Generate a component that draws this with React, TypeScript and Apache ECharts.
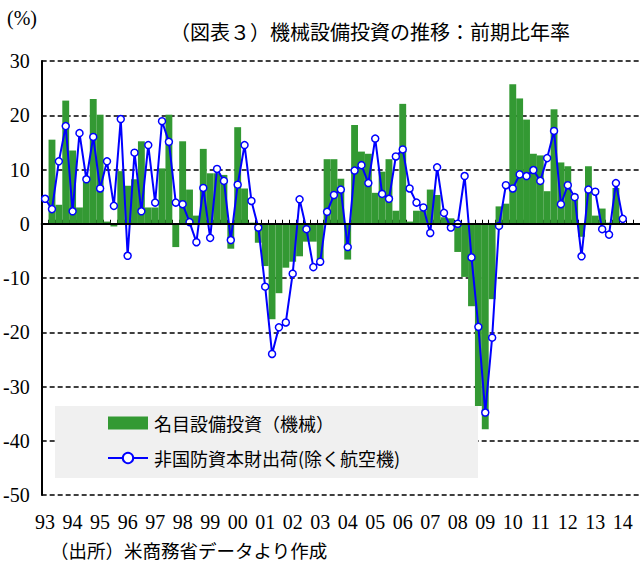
import React, { useEffect, useRef } from "react";
import * as echarts from "echarts";

const years = ["93","94","95","96","97","98","99","00","01","02","03","04","05","06","07","08","09","10","11","12","13","14"];
const quarterCount = 87;
const quarters: string[] = years.flatMap((y) => ["Q1", "Q2", "Q3", "Q4"].map((q) => y + q)).slice(0, quarterCount);

// 名目設備投資（機械） — quarterly, annualized q/q %
const investment: (number | null)[] = [
  null, 15.5, 3.5, 22.7, 13.5, 3.0, 8.0, 23.0, 20.1, 0.4,
  -0.5, 9.7, 7.0, 8.2, 15.2, 3.0, 3.0, 10.2, 20.1, -4.3,
  15.2, 6.3, 1.5, 13.8, 9.3, 9.3, 9.0, -4.6, 17.8, 6.5,
  0.2, -3.5, -7.8, -17.6, -12.8, -8.1, -7.0, -6.0, -3.3, -3.3,
  -6.5, 11.9, 11.9, 8.3, -6.6, 18.2, 13.3, 12.9, 5.7, 9.6,
  11.9, 2.4, 22.1, 0.4, 2.4, 2.4, 6.3, 5.3, 1.2, 1.0,
  -5.2, -9.8, -15.2, -33.6, -37.9, -13.9, 3.2, 3.7, 25.7, 23.1,
  19.2, 12.9, 12.6, 6.0, 21.1, 11.3, 10.6, 5.5, -2.4, 10.6,
  1.5, 2.8, 0.2, 6.6,
];

// 非国防資本財出荷(除く航空機)
const shipments: number[] = [
  4.6, 2.7, 11.5, 18.0, 2.3, 16.7, 8.2, 16.0, 6.5, 11.5,
  3.3, 19.3, -5.9, 13.1, 2.3, 14.5, 3.9, 18.9, 15.1, 3.9,
  3.6, 0.3, -3.4, 6.6, -2.6, 10.1, 7.9, -3.0, 7.2, 14.5,
  4.2, -0.7, -11.6, -24.0, -19.1, -18.2, -9.2, 4.5, -1.0, -8.0,
  -7.0, 2.2, 5.3, 6.3, -4.3, 9.8, 10.8, 7.5, 15.7, 5.5,
  4.6, 12.4, 13.7, 6.5, 3.9, 3.0, -1.7, 10.4, 2.0, -0.7,
  0.0, 8.8, -6.2, -19.0, -34.8, -21.0, -0.4, 7.1, 6.5, 9.1,
  8.8, 9.9, 7.9, 12.1, 17.1, 3.6, 7.1, 4.9, -6.0, 6.3,
  5.9, -1.0, -2.0, 7.5, 0.9,
];

const seriesNames = ["名目設備投資（機械）", "非国防資本財出荷(除く航空機)"];
const title = "（図表３）機械設備投資の推移：前期比年率";
const unitLabel = "(%)";
const source = "（出所）米商務省データより作成";

const SERIF = "'Liberation Serif', 'Noto Sans CJK JP', serif";
const CJK = "'Noto Sans CJK JP', 'Liberation Serif', sans-serif";

export default function App() {
  const ref = useRef<HTMLDivElement>(null);
  useEffect(() => {
    if (!ref.current) return;
    const chart = echarts.init(ref.current, undefined, { renderer: "svg" });
    chart.setOption({
      animation: false,
      backgroundColor: "#ffffff",
      grid: { left: 41, top: 61, width: 599, height: 434, containLabel: false },
      xAxis: {
        type: "category",
        data: quarters,
        boundaryGap: true,
        axisLine: { show: true, lineStyle: { color: "#000", width: 2 } },
        axisTick: { show: true, inside: true, length: 4, interval: 0, lineStyle: { color: "#000", width: 1 } },
        axisLabel: {
          interval: 3,
          formatter: (v: string) => v.slice(0, 2),
          color: "#000",
          fontFamily: SERIF,
          fontSize: 20,
          margin: 17,
        },
        splitLine: { show: false },
      },
      yAxis: {
        type: "value",
        min: -50,
        max: 30,
        interval: 10,
        axisLine: { show: true, lineStyle: { color: "#000", width: 2 } },
        axisTick: { show: false },
        axisLabel: { color: "#000", fontFamily: SERIF, fontSize: 20, margin: 12 },
        splitLine: { show: true, lineStyle: { color: "#000", width: 1.5, type: [5, 3] } },
      },
      legend: {
        show: true,
        orient: "vertical",
        left: 107,
        top: 414,
        padding: 0,
        itemWidth: 40,
        itemHeight: 13,
        itemGap: 17,
        z: 20,
        textStyle: { color: "#000", fontFamily: CJK, fontSize: 18, padding: [0, 0, 0, 1] },
        data: [
          { name: seriesNames[0], icon: "rect" },
          { name: seriesNames[1] },
        ],
      },
      graphic: [
        {
          type: "rect",
          z: 15,
          shape: { x: 55, y: 406, width: 423, height: 72 },
          style: { fill: "#f0f0f0" },
        },
        {
          type: "text",
          left: 7,
          top: 8,
          style: { text: unitLabel, fontFamily: SERIF, fontSize: 20, fill: "#000" },
        },
        {
          type: "text",
          left: 170,
          top: 21,
          style: { text: title, fontFamily: CJK, fontSize: 20, fill: "#000" },
        },
        {
          type: "text",
          left: 50,
          top: 541,
          style: { text: source, fontFamily: CJK, fontSize: 18.5, fill: "#000" },
        },
      ],
      series: [
        {
          name: seriesNames[0],
          type: "bar",
          data: investment,
          barCategoryGap: "0%",
          itemStyle: { color: "#339933" },
          z: 2,
          markLine: {
            silent: true,
            symbol: "none",
            label: { show: false },
            lineStyle: { color: "#000", width: 2, type: "solid" },
            data: [{ yAxis: 0 }],
          },
        },
        {
          name: seriesNames[1],
          type: "line",
          data: shipments,
          symbol: "circle",
          symbolSize: 7,
          showAllSymbol: true,
          lineStyle: { color: "#0000ff", width: 2 },
          itemStyle: { color: "#ffffff", borderColor: "#0000ff", borderWidth: 1.5 },
          z: 3,
        },
      ],
    });
    return () => chart.dispose();
  }, []);
  return <div ref={ref} style={{ width: 640, height: 569, position: "absolute", left: 0, top: 0 }} />;
}
